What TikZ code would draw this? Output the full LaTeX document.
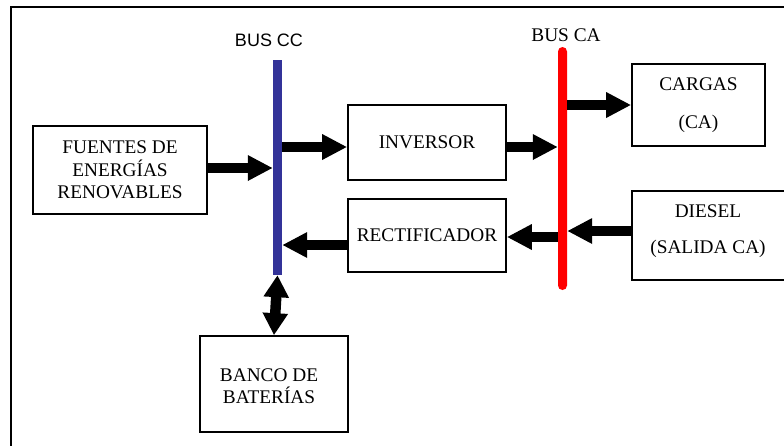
\documentclass[tikz,border=0pt]{standalone}
\usepackage{fontspec}
\setmainfont{Liberation Serif}
\newfontfamily\arialf{Liberation Sans}
\usetikzlibrary{arrows.meta}
\definecolor{busblue}{RGB}{51,51,153}
\definecolor{busred}{RGB}{255,0,0}
\tikzset{
  box/.style={draw, line width=1.7pt, inner sep=0pt, align=center, font=\fontsize{19.3}{22.5}\selectfont},
  txt/.style={inner sep=0pt, align=center, font=\fontsize{19.3}{22.5}\selectfont},
  bigarrow/.style={line width=10.5pt, -{Triangle[length=25pt,width=24pt]}},
  dblarrow/.style={line width=10.5pt, {Triangle[length=22pt,width=24pt]}-{Triangle[length=22pt,width=24pt]}},
  busbar/.style={inner sep=0pt, minimum width=9pt}
}
\begin{document}
\begin{tikzpicture}[x=1pt,y=-1pt]
\useasboundingbox (0,0) rectangle (784,445);
\clip (0,0) rectangle (784,445);
\fill[white] (0,0) rectangle (784,445);
% outer frame
\draw[line width=1.7pt] (11,7) rectangle (800,460);

% buses
\node[busbar, fill=busblue, minimum height=215pt] (cc) at (277.5,167.5) {};
\node[busbar, fill=busred, minimum height=243pt, rounded corners=4.5pt] (ca) at (562.5,168.5) {};
\node[font=\arialf\fontsize{18}{20}\selectfont, inner sep=0pt] (cclbl) at (269,40) {BUS CC};
\node[txt] (calbl) at (566,35) {BUS CA};

% boxes
\node[box, minimum width=174pt, minimum height=88pt] (fuentes) at (120,170)
  {FUENTES DE\\ENERGÍAS\\RENOVABLES};
\node[box, minimum width=158pt, minimum height=75pt] (inversor) at (427,142.5) {INVERSOR};
\node[box, minimum width=158pt, minimum height=73pt] (rect) at (427,235.5) {RECTIFICADOR};
\node[box, minimum width=133pt, minimum height=82pt] (cargas) at (698.5,105) {CARGAS\\[15pt](CA)};
\node[box, minimum width=168pt, minimum height=89pt] (diesel) at (716,235.5) {};
\node[txt] (dieseltxt) at (708,231) {DIESEL\\[13pt](SALIDA CA)};
\node[box, minimum width=148pt, minimum height=96pt] (banco) at (274,384) {};
\node[txt] (bancotxt) at (269,386) {BANCO DE\\BATERÍAS};

% helper coordinates
\coordinate (f1) at ([yshift=2pt]fuentes.east);
\coordinate (i1) at ([yshift=-4.5pt]inversor.west);
\coordinate (i2) at ([yshift=-4.5pt]inversor.east);
\coordinate (d1) at ([yshift=4.5pt]diesel.west);
\coordinate (r1) at ([yshift=-1.5pt]rect.east);
\coordinate (r2) at ([yshift=-9.5pt]rect.west);

% arrows
\draw[bigarrow] (f1) -- (f1 -| cc.west);
\draw[bigarrow] (i1 -| cc.east) -- (i1);
\draw[bigarrow] (i2) -- (i2 -| ca.west);
\draw[bigarrow] (cargas.west -| ca.east) -- (cargas.west);
\draw[bigarrow] (d1) -- (d1 -| ca.east);
\draw[bigarrow] (r1 -| ca.west) -- (r1);
\draw[bigarrow] (r2) -- (r2 -| cc.east);
\draw[dblarrow] (cc.south) -- (banco.north);
\end{tikzpicture}
\end{document}
